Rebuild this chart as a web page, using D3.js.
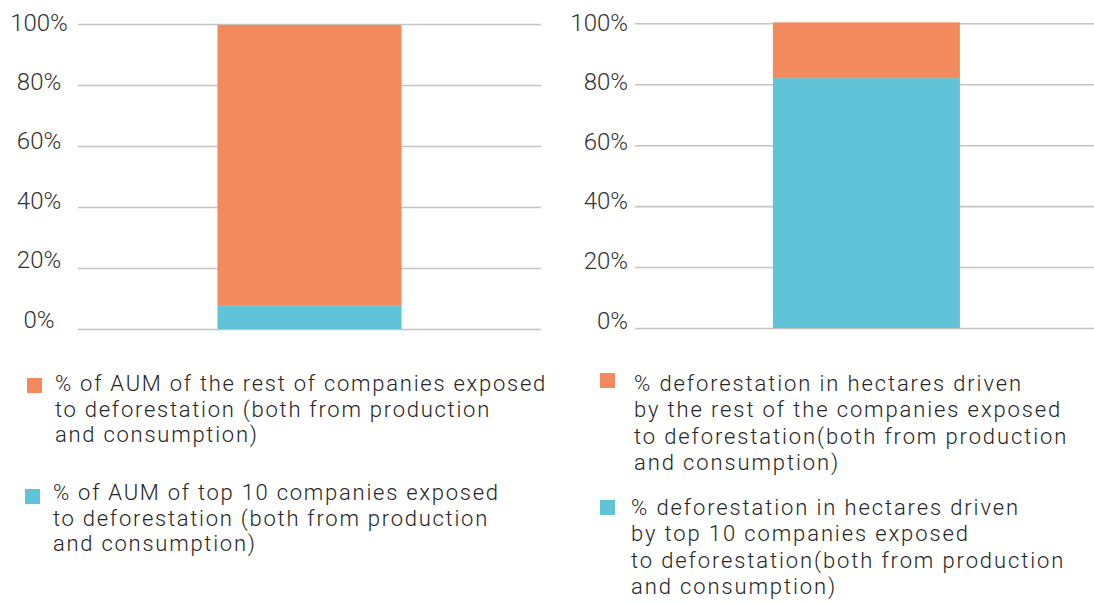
<!DOCTYPE html>
<html><head><meta charset="utf-8">
<script src="https://cdn.jsdelivr.net/npm/d3@7"></script>
<style>
body{margin:0;background:#fff;}
svg{display:block;}
.tick-label{font-family:"Roboto",sans-serif;font-weight:300;font-size:24px;fill:#333;}
.legend{font-family:"Roboto",sans-serif;font-weight:300;font-size:22px;fill:#262626;}
</style></head>
<body>
<svg id="chart" width="1094" height="603"></svg>
<script>
// ---- data ----
const tickValues = [0, 20, 40, 60, 80, 100];
const tickLabels = ["0%", "20%", "40%", "60%", "80%", "100%"];
const seriesKeys = ["top10", "rest"];
const seriesColors = ["#60C3D8", "#F28A5D"];

const leftCategories = ["AUM"];
const leftTop10 = [7.6];
const leftRest = [92.1];
const leftLegend = [
  ["% of AUM of the rest of companies exposed", "to deforestation (both from production", "and consumption)"],
  ["% of AUM of top 10 companies exposed", "to deforestation (both from production", "and consumption)"]
];

const rightCategories = ["Hectares"];
const rightTop10 = [82.0];
const rightRest = [18.3];
const rightLegend = [
  ["% deforestation in hectares driven", "by the rest of the companies exposed", "to deforestation(both from production", "and consumption)"],
  ["% deforestation in hectares driven", "by top 10 companies exposed", "to deforestation(both from production", "and consumption)"]
];

const svg = d3.select("#chart");

function panel(cfg) {
  const g = svg.append("g");
  const y = d3.scaleLinear().domain([0, 100]).range([cfg.y0, cfg.y100]);
  const yLab = d3.scaleLinear().domain([0, 100]).range([cfg.lab0, cfg.lab100]);
  const x = d3.scaleBand().domain(cfg.categories).range([cfg.gx0, cfg.gx1]).padding(cfg.pad).align(cfg.align);

  // gridlines
  g.append("g")
    .attr("transform", `translate(${cfg.gx0},0)`)
    .call(d3.axisLeft(y).tickValues(tickValues).tickSize(-(cfg.gx1 - cfg.gx0)).tickFormat(""))
    .call(a => a.select(".domain").remove())
    .call(a => a.selectAll(".tick line").attr("stroke", "#c4c4c4").attr("stroke-width", 1.6));

  // tick labels
  g.selectAll("text.tick-label").data(tickValues).join("text")
    .attr("class", "tick-label")
    .attr("x", cfg.labX)
    .attr("y", d => yLab(d))
    .attr("dy", "0.36em")
    .attr("text-anchor", cfg.labAnchor)
    .text((d, i) => tickLabels[i]);

  // stacked bars
  const rows = cfg.categories.map((c, i) => ({cat: c, top10: cfg.top10[i], rest: cfg.rest[i]}));
  const stacked = d3.stack().keys(seriesKeys)(rows);
  g.selectAll("g.series").data(stacked).join("g")
    .attr("class", "series")
    .attr("fill", (d, i) => seriesColors[i])
    .selectAll("rect").data(d => d).join("rect")
    .attr("x", d => x(d.data.cat))
    .attr("width", x.bandwidth())
    .attr("y", d => y(d[1]))
    .attr("height", d => y(d[0]) - y(d[1]));

  // legend (rest first, then top10)
  const order = [1, 0];
  const texts = [];
  cfg.legend.forEach((lines, k) => {
    const L = cfg.legendPos[k];
    g.append("rect")
      .attr("x", L.sx).attr("y", L.sy).attr("width", 15).attr("height", 15)
      .attr("fill", seriesColors[order[k]]);
    const t = g.append("text").attr("class", "legend").attr("x", L.tx).attr("y", L.ty);
    lines.forEach((ln, j) => {
      t.append("tspan").attr("x", L.tx).attr("y", L.ty + j * cfg.lineH).text(ln);
    });
    texts.push(t);
  });
  // fit letter spacing so the first legend line has the reference width
  const first = texts[0].select("tspan").node();
  const natural = first.getComputedTextLength();
  const n = cfg.legend[0][0].length;
  const ls = (cfg.firstLineWidth - natural) / n;
  texts.forEach(t => t.style("letter-spacing", ls + "px"));
}

panel({
  categories: leftCategories, top10: leftTop10, rest: leftRest,
  y0: 329, y100: 24, lab0: 319, lab100: 22,
  gx0: 78, gx1: 541, pad: 0.431, align: 0.5,
  labX: 39, labAnchor: "middle",
  legend: leftLegend, lineH: 25.5, firstLineWidth: 492,
  legendPos: [{sx: 27, sy: 378, tx: 55, ty: 391}, {sx: 25, sy: 489, tx: 53, ty: 500}]
});

panel({
  categories: rightCategories, top10: rightTop10, rest: rightRest,
  y0: 328, y100: 23.3, lab0: 320, lab100: 22,
  gx0: 635, gx1: 1094, pad: 0.421, align: 0.507,
  labX: 628, labAnchor: "end",
  legend: rightLegend, lineH: 26.3, firstLineWidth: 389,
  legendPos: [{sx: 600, sy: 373, tx: 634, ty: 391}, {sx: 600, sy: 500, tx: 631, ty: 515}]
});
</script>
</body></html>
